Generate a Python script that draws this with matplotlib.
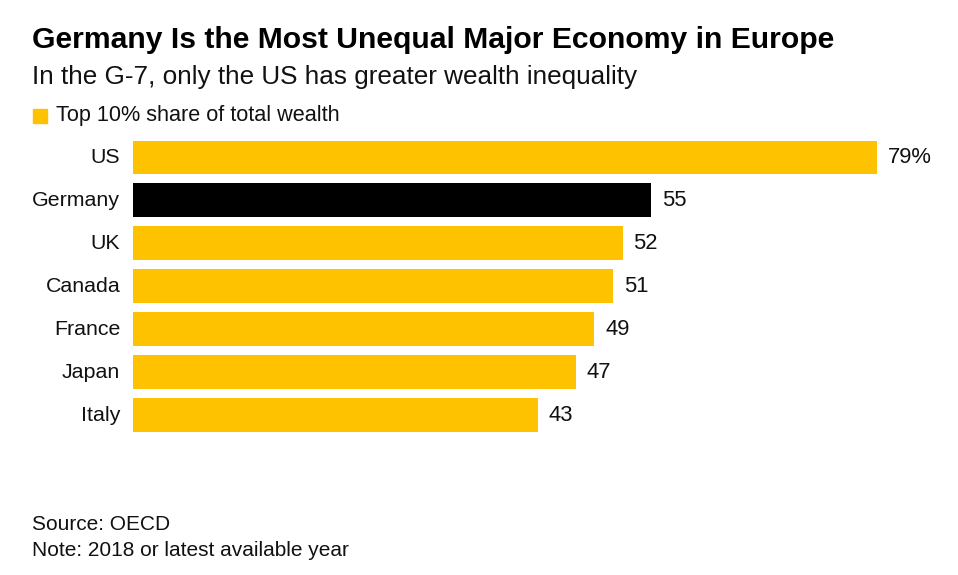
import matplotlib.pyplot as plt

countries = ["US", "Germany", "UK", "Canada", "France", "Japan", "Italy"]
shares = [79, 55, 52, 51, 49, 47, 43]
highlight = "Germany"

YELLOW = "#ffc200"
BLACK = "#000000"

plt.rcParams["font.family"] = ["Liberation Sans", "DejaVu Sans"]

W, H = 958, 575
fig = plt.figure(figsize=(W / 100, H / 100), dpi=100)

# axes placed so bars start at x=133px and US bar ends near 877px
left, right = 133, 877
top, bottom = 136, 436.5
ax = fig.add_axes([left / W, 1 - bottom / H, (right - left) / W, (bottom - top) / H])

ypos = list(range(len(countries)))
colors = [BLACK if c == highlight else YELLOW for c in countries]
ax.barh(ypos, shares, height=0.79, color=colors)
ax.set_xlim(0, 79)
ax.set_ylim(len(countries) - 0.5, -0.5)

for y, c, v in zip(ypos, countries, shares):
    label = f"{v}%" if y == 0 else f"{v}"
    ax.text(v + 1.15, y, label, va="center", ha="left", fontsize=15.8, color="#111111")
    ax.text(-1.35, y, c, va="center", ha="right", fontsize=15.4, color="#111111")

ax.axis("off")

fig.text(32 / W, 1 - 40 / H, "Germany Is the Most Unequal Major Economy in Europe",
         fontsize=21.7, fontweight="bold", va="center", ha="left", color="#000000")
fig.text(32 / W, 1 - 77 / H, "In the G-7, only the US has greater wealth inequality",
         fontsize=18.8, va="center", ha="left", color="#111111")
fig.patches.append(plt.Rectangle((33 / W, 1 - 123 / H), 14 / W, 14 / H,
                                 transform=fig.transFigure, color=YELLOW))
fig.text(56 / W, 1 - 115 / H, "Top 10% share of total wealth",
         fontsize=15.6, va="center", ha="left", color="#111111")

fig.text(32 / W, 1 - 524 / H, "Source: OECD", fontsize=15, va="center", ha="left", color="#111111")
fig.text(32 / W, 1 - 550 / H, "Note: 2018 or latest available year",
         fontsize=15, va="center", ha="left", color="#111111")

fig.savefig("out.png", dpi=100)
